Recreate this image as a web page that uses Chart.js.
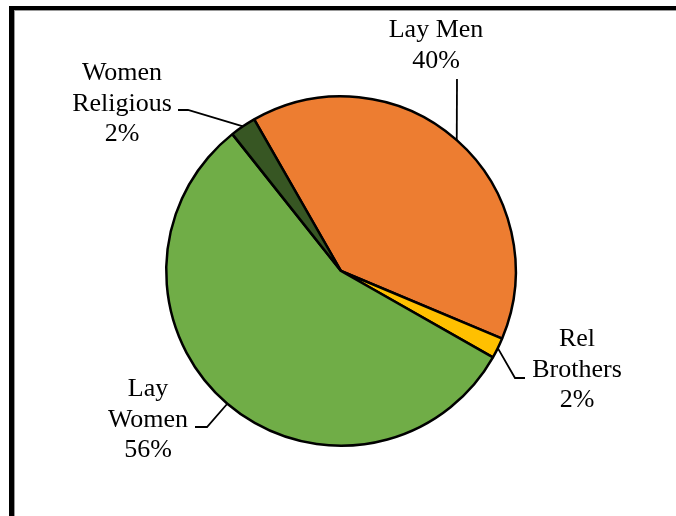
<!DOCTYPE html>
<html>
<head>
<meta charset="utf-8">
<script src="https://cdn.jsdelivr.net/npm/chart.js@4.4.1/dist/chart.umd.min.js"></script>
<style>
  html, body { margin: 0; padding: 0; background: #fff; }
  #wrap { position: relative; width: 676px; height: 516px; }
</style>
</head>
<body>
<div id="wrap"><canvas id="myChart" width="676" height="516"></canvas></div>
<script>
// data (clockwise, starting at Lay Men)
var categories = ['Lay Men', 'Rel Brothers', 'Lay Women', 'Women Religious'];
var shares = [39.6, 1.9, 56.1, 2.4];
var labelLines = [['Lay Men', '40%'], ['Rel', 'Brothers', '2%'], ['Lay', 'Women', '56%'], ['Women', 'Religious', '2%']];
var colors = ['#ED7D31', '#FFC000', '#70AD47', '#375623'];

// where each label sits and how its leader bends
var labelPlace = [
    { x: 436, y: 37, elbow: [[457, 79]] },
    { x: 577, y: 346, elbow: [[515, 378], [525, 378]] },
    { x: 148, y: 396, elbow: [[207, 427], [195, 427]] },
    { x: 122, y: 80, elbow: [[188, 110], [178, 110]] }
];

var framePlugin = {
    id: 'frame',
    beforeDraw: function (chart) {
        var ctx = chart.ctx;
        ctx.save();
        ctx.fillStyle = '#fff';
        ctx.fillRect(0, 0, chart.width, chart.height);
        ctx.fillStyle = '#000';
        ctx.fillRect(9, 6, chart.width, 4);
        ctx.fillRect(9, 6, 5, chart.height);
        ctx.fillStyle = '#999';
        ctx.fillRect(14, 10, chart.width, 1);
        ctx.fillRect(14, 10, 1, chart.height);
        ctx.restore();
    }
};

var labelPlugin = {
    id: 'outLabels',
    afterDraw: function (chart) {
        var ctx = chart.ctx;
        var meta = chart.getDatasetMeta(0);
        ctx.save();
        meta.data.forEach(function (arc, i) {
            var p = arc.getProps(['x', 'y', 'startAngle', 'endAngle', 'outerRadius'], true);
            var mid = (p.startAngle + p.endAngle) / 2;
            var sx = p.x + Math.cos(mid) * p.outerRadius;
            var sy = p.y + Math.sin(mid) * p.outerRadius;
            var place = labelPlace[i];
            ctx.strokeStyle = '#000';
            ctx.lineWidth = 1.8;
            ctx.beginPath();
            ctx.moveTo(sx, sy);
            place.elbow.forEach(function (pt) { ctx.lineTo(pt[0], pt[1]); });
            ctx.stroke();

            ctx.fillStyle = '#000';
            ctx.font = '26px "Liberation Serif", "Times New Roman", serif';
            ctx.textAlign = 'center';
            ctx.textBaseline = 'alphabetic';
            labelLines[i].forEach(function (line, k) {
                ctx.fillText(line, place.x, place.y + k * 30.5);
            });
        });
        ctx.restore();
    }
};

var ctx = document.getElementById('myChart').getContext('2d');
var myChart = new Chart(ctx, {
    type: 'pie',
    data: {
        labels: categories,
        datasets: [{
            data: shares,
            backgroundColor: colors,
            borderColor: '#000',
            borderWidth: 2.5,
            hoverOffset: 0
        }]
    },
    options: {
        responsive: false,
        animation: false,
        rotation: -29.8,
        layout: { padding: { left: 165, right: 159, top: 95, bottom: 69 } },
        plugins: {
            legend: { display: false },
            tooltip: { enabled: false }
        }
    },
    plugins: [framePlugin, labelPlugin]
});
</script>
</body>
</html>
